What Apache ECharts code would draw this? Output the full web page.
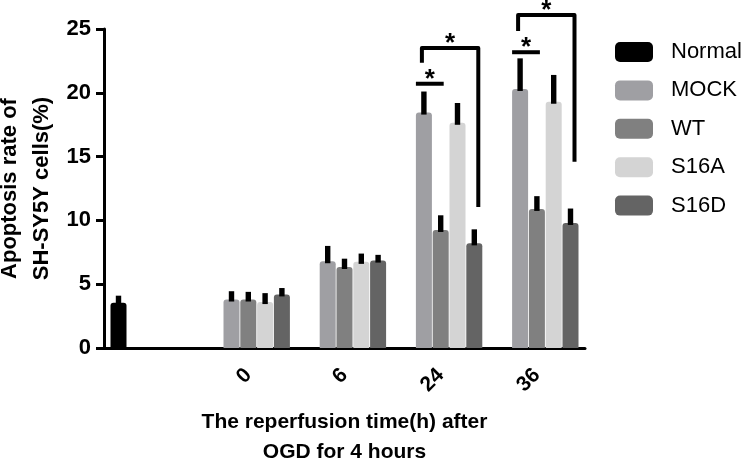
<!DOCTYPE html>
<html>
<head>
<meta charset="utf-8">
<script src="https://cdn.jsdelivr.net/npm/echarts@6/dist/echarts.min.js"></script>
<style>html,body{margin:0;padding:0;background:#fff;}#c{width:750px;height:466px;}</style>
</head>
<body>
<div id="c"></div>
<script>
const categories = ['', '0', '6', '24', '36'];
const seriesNames = ['Normal', 'MOCK', 'WT', 'S16A', 'S16D'];
const normal  = [3.55, null, null, null, null];
const mock    = [null, 3.8, 6.8, 18.45, 20.3];
const wt      = [null, 3.8, 6.35, 9.25, 10.9];
const s16a    = [null, 3.6, 6.75, 17.65, 19.3];
const s16d    = [null, 4.2, 6.85, 8.2, 9.8];
const normalErr = [0.55, null, null, null, null];
const mockErr   = [null, 0.65, 1.2, 1.65, 2.4];
const wtErr     = [null, 0.6, 0.65, 1.15, 1.0];
const s16aErr   = [null, 0.7, 0.65, 1.55, 2.1];
const s16dErr   = [null, 0.5, 0.45, 1.1, 1.13];
// significance: [categoryIndex, lineLevel]
const sigShort = [[3, 20.71], [4, 23.18]];
// [categoryIndex, leftLegBottom, top, rightLegBottom]
const sigLong = [[3, 22.36, 23.52, 11.05], [4, 24.84, 26.1, 14.6]];
const yTicks = [0, 5, 10, 15, 20, 25];

const colors = ['#000000', '#9f9fa3', '#808080', '#d4d4d4', '#646464'];
const values = [normal, mock, wt, s16a, s16d];
const errs = [normalErr, mockErr, wtErr, s16aErr, s16dErr];
const FONT = "'Liberation Sans', Arial, sans-serif";
const SLOT = 16.8;

const chart = echarts.init(document.getElementById('c'));
const series = [];
values.forEach((v, i) => {
  series.push({
    name: seriesNames[i], type: 'bar', data: v, barWidth: 16, barGap: '5%',
    itemStyle: { color: colors[i], borderRadius: [3, 3, 0, 0] }
  });
});
values.forEach((v, i) => {
  const d = [];
  v.forEach((val, k) => { if (val != null) d.push([k, val, val + errs[i][k]]); });
  series.push({
    type: 'custom', data: d, z: 5, silent: true,
    renderItem: function (params, api) {
      const p0 = api.coord([api.value(0), api.value(1)]);
      const p1 = api.coord([api.value(0), api.value(2)]);
      const x = p0[0] + (i - 2) * SLOT;
      return { type: 'rect', shape: { x: x - 2.7, y: p1[1], width: 5.4, height: p0[1] - p1[1] + 2 }, style: { fill: '#000' } };
    }
  });
});
series.push({
  type: 'custom', data: sigShort, z: 6, silent: true, clip: false,
  renderItem: function (params, api) {
    const p = api.coord([api.value(0), api.value(1)]);
    const x1 = p[0] - SLOT - 8, x2 = p[0] + 3;
    return { type: 'group', children: [
      { type: 'rect', shape: { x: x1, y: p[1] - 2, width: x2 - x1, height: 4 }, style: { fill: '#000' } },
      { type: 'text', style: { x: (x1 + x2) / 2, y: p[1] - 4, text: '*', fill: '#000', font: 'bold 26px ' + FONT, align: 'center', verticalAlign: 'middle' } }
    ]};
  }
});
series.push({
  type: 'custom', data: sigLong, z: 6, silent: true, clip: false,
  renderItem: function (params, api) {
    const c = api.value(0);
    const pl = api.coord([c, api.value(1)]);
    const pt = api.coord([c, api.value(2)]);
    const pr = api.coord([c, api.value(3)]);
    const xl = pl[0] - SLOT - 2, xr = pl[0] + 2 * SLOT + 4;
    return { type: 'group', children: [
      { type: 'polyline', shape: { points: [[xl, pl[1]], [xl, pt[1]], [xr, pt[1]], [xr, pr[1]]] },
        style: { stroke: '#000', lineWidth: 4, fill: null, lineJoin: 'round' } },
      { type: 'text', style: { x: (xl + xr) / 2, y: pt[1] - 4, text: '*', fill: '#000', font: 'bold 26px ' + FONT, align: 'center', verticalAlign: 'middle' } }
    ]};
  }
});

chart.setOption({
  animation: false,
  backgroundColor: '#fff',
  textStyle: { fontFamily: FONT },
  grid: { left: 104, right: 165, top: 29, bottom: 118, containLabel: false, outerBoundsMode: 'none' },
  legend: {
    data: seriesNames, orient: 'vertical', left: 615, top: 41, icon: 'roundRect', padding: 0,
    itemWidth: 38, itemHeight: 20, itemGap: 16.4,
    textStyle: { fontSize: 22, color: '#000', fontFamily: FONT, padding: [0, 0, 0, 13] }
  },
  xAxis: {
    type: 'category', data: categories,
    name: 'The reperfusion time(h) after\nOGD for 4 hours', nameLocation: 'middle', nameGap: 59, nameMoveOverlap: false,
    nameTextStyle: { fontSize: 21, fontWeight: 'bold', color: '#000', lineHeight: 30, fontFamily: FONT },
    axisLine: { lineStyle: { color: '#000', width: 3 } },
    axisTick: { alignWithLabel: true, length: 8, lineStyle: { color: '#000', width: 3 } },
    axisLabel: { rotate: 45, fontSize: 21, fontWeight: 'bold', color: '#000', margin: 24, fontFamily: FONT }
  },
  yAxis: {
    type: 'value', min: yTicks[0], max: yTicks[yTicks.length - 1], interval: 5,
    name: 'Apoptosis rate of\nSH-SY5Y cells(%)', nameLocation: 'middle', nameGap: 46, nameMoveOverlap: false,
    nameTextStyle: { fontSize: 22, fontWeight: 'bold', color: '#000', lineHeight: 32, fontFamily: FONT },
    splitLine: { show: false },
    axisLine: { show: true, lineStyle: { color: '#000', width: 3 } },
    axisTick: { show: true, length: 8, lineStyle: { color: '#000', width: 3 } },
    axisLabel: { fontSize: 22, fontWeight: 'bold', color: '#000', margin: 13, fontFamily: FONT }
  },
  series: series
});
</script>
</body>
</html>
